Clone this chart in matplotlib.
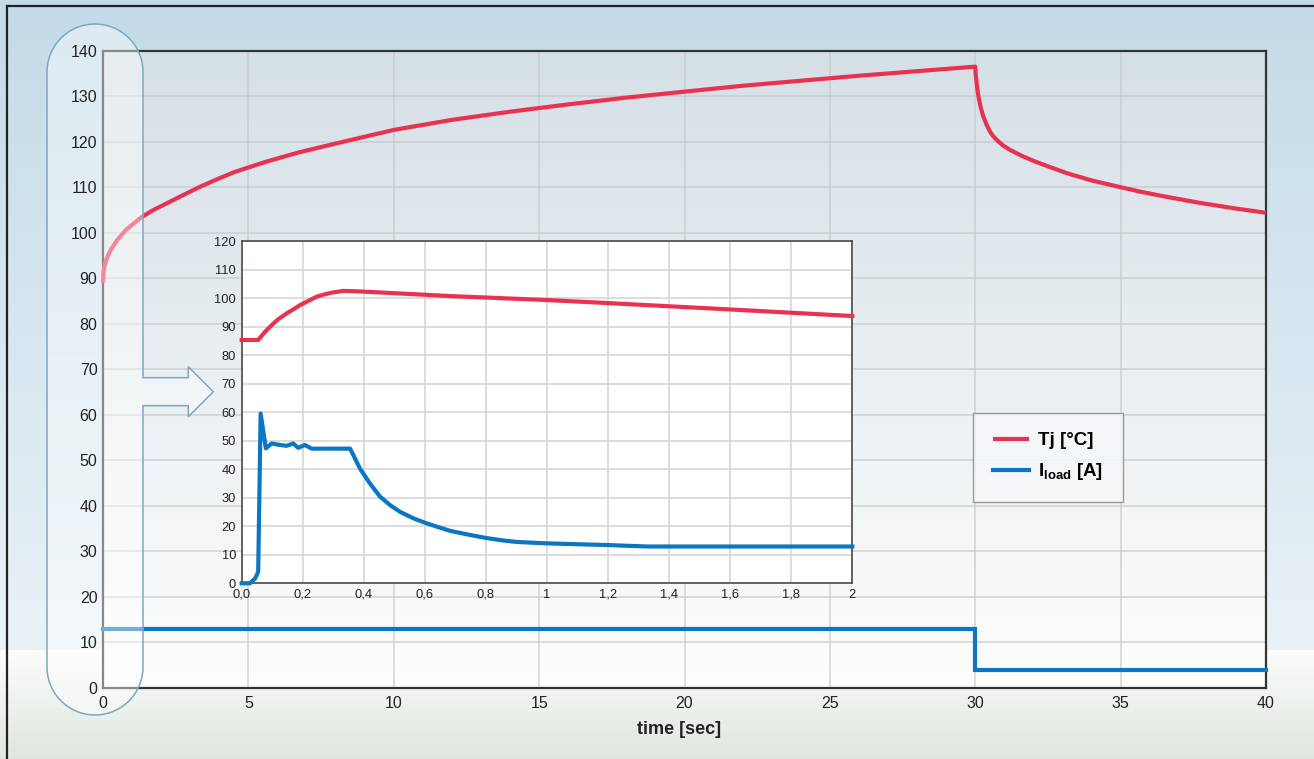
import numpy as np
import matplotlib
matplotlib.use("Agg")
import matplotlib.pyplot as plt
from matplotlib.path import Path
from matplotlib.patches import PathPatch
from matplotlib.lines import Line2D

plt.rcParams["font.family"] = ["Liberation Sans", "DejaVu Sans"]
plt.rcParams["mathtext.fontset"] = "custom"
plt.rcParams["mathtext.rm"] = "Liberation Sans"
plt.rcParams["mathtext.bf"] = "Liberation Sans:bold"

# ---- data -------------------------------------------------------------
# long-run view: junction temperature and load current over 40 s
time_tj = [0, 0.02, 0.05, 0.1, 0.2, 0.3, 0.5, 0.8, 1.3, 1.7, 2.2, 2.7, 3.3,
           3.9, 4.5, 5.6, 6.7, 8, 10, 12, 14, 16, 18, 20, 22, 24, 26, 28, 30,
           30.02, 30.06, 30.11, 30.19, 30.28, 30.4, 30.51, 30.62, 30.74,
           30.95, 31.2, 31.6, 32.0, 32.5, 33.15, 34.0, 34.94, 35.7, 36.58,
           37.7, 38.88, 40]
tj = [89, 91.4, 92.6, 93.8, 95.4, 96.6, 98.5, 100.7, 103.3, 104.9, 106.5,
      108.1, 110.0, 111.7, 113.3, 115.6, 117.6, 119.6, 122.6, 124.8, 126.6,
      128.2, 129.7, 131.0, 132.3, 133.4, 134.5, 135.5, 136.5,
      134.5, 132.2, 129.9, 127.5, 125.5, 123.6, 122.2, 121.2, 120.4,
      119.2, 118.2, 116.9, 115.8, 114.6, 113.1, 111.5, 110.1, 109.0, 107.9,
      106.6, 105.4, 104.4]

time_load = [0, 30, 30, 40]
i_load = [13, 13, 4, 4]

# zoomed view: first 2 s after switch-on
zoom_time_tj = [0, 0.054, 0.075, 0.098, 0.12, 0.147, 0.17, 0.191, 0.22,
                0.246, 0.275, 0.300, 0.333, 0.37, 0.409, 0.5, 0.682, 1.0,
                1.17, 1.6, 2.0]
zoom_tj = [85.3, 85.3, 88.0, 90.5, 92.6, 94.6, 96.1, 97.5, 99.1, 100.5,
           101.4, 102.0, 102.5, 102.4, 102.2, 101.7, 100.7, 99.3, 98.4,
           96.0, 93.7]

zoom_time_load = [0, 0.027, 0.044, 0.054, 0.062, 0.079, 0.098, 0.125, 0.147,
                  0.169, 0.185, 0.207, 0.229, 0.355, 0.371, 0.387, 0.42,
                  0.453, 0.486, 0.518, 0.562, 0.606, 0.682, 0.75, 0.8, 0.85,
                  0.9, 1.0, 1.1, 1.2, 1.33, 2.0]
zoom_load = [0, 0, 1.7, 4, 59.5, 47.3, 49, 48.5, 48.2, 49, 47.5, 48.5, 47.2,
             47.2, 43.8, 40.3, 35.0, 30.4, 27.4, 25.1, 22.8, 21.0, 18.4, 16.9,
             15.9, 15.1, 14.5, 14.0, 13.7, 13.4, 12.9, 12.9]

main_xticks = [0, 5, 10, 15, 20, 25, 30, 35, 40]
main_yticks = list(range(0, 141, 10))
zoom_xticks = [0, 0.2, 0.4, 0.6, 0.8, 1.0, 1.2, 1.4, 1.6, 1.8, 2.0]
zoom_xtick_labels = ["0,0", "0,2", "0,4", "0,6", "0,8", "1", "1,2", "1,4",
                     "1,6", "1,8", "2"]
zoom_yticks = list(range(0, 121, 10))

legend_labels = ["Tj [°C]", r"$\mathbf{I}_{\mathbf{load}}$ [A]"]

RED = "#e9324f"
BLUE = "#0b76c1"

# ---- figure -------------------------------------------------------------
W, H = 1314, 759
fig = plt.figure(figsize=(W / 100, H / 100), dpi=100)


def fx(px):
    return px / W


def fy(py):
    return (H - py) / H


# page background: blue sky fading to white, greenish floor
bg_ax = fig.add_axes([0, 0, 1, 1], zorder=-10)
bg_ax.set_axis_off()
top_c = np.array([0.765, 0.859, 0.910])
mid_c = np.array([0.915, 0.948, 0.966])
low_c = np.array([0.985, 0.990, 0.985])
bot_c = np.array([0.875, 0.905, 0.868])
grad = np.zeros((H, 1, 3))
for r in range(H):
    if r < 650:
        t = r / 650
        c = top_c * (1 - t) + mid_c * t
    else:
        t = (r - 650) / (H - 650)
        c = low_c * (1 - t) + bot_c * t
    grad[r, 0] = c
bg_ax.imshow(grad, aspect="auto", extent=[0, 1, 0, 1], origin="upper")
bg_ax.set_xlim(0, 1)
bg_ax.set_ylim(0, 1)

# frame lines of the page
fig.add_artist(Line2D([fx(7), 1], [fy(6), fy(6)], color="#222222", lw=1.6,
                      transform=fig.transFigure))
fig.add_artist(Line2D([fx(7), fx(7)], [fy(6), 0], color="#222222", lw=1.6,
                      transform=fig.transFigure))

# ---- main axes ---------------------------------------------------------
main_rect = [fx(103), fy(688), fx(1266) - fx(103), fy(50.7) - fy(688)]
ax = fig.add_axes(main_rect, zorder=0)
ax.set_xlim(0, 40)
ax.set_ylim(0, 140)
ax.set_facecolor("none")

agrad = np.linspace(0, 1, 256)[:, None]
a_top = np.array([0.835, 0.877, 0.903])
a_bot = np.array([0.995, 0.995, 0.993])
shade = (a_top[None, None, :] * (1 - agrad[..., None])
         + a_bot[None, None, :] * agrad[..., None])
shade = np.clip(shade, 0, 1)
ax.imshow(shade, aspect="auto", extent=[0, 1, 0, 1], origin="upper",
          transform=ax.transAxes, zorder=-5)

ax.set_xticks(main_xticks)
ax.set_yticks(main_yticks)
ax.grid(True, color="#c4c7c9", alpha=0.6, lw=1.4)
ax.set_axisbelow(True)
ax.tick_params(length=0, labelbottom=False, labelleft=False)
for s in ax.spines.values():
    s.set_color("#333333")
    s.set_linewidth(1.6)

tj_line, = ax.plot(time_tj, tj, color=RED, lw=3.0, solid_joinstyle="round",
                   solid_capstyle="butt", clip_on=False, zorder=3)
load_line, = ax.plot(time_load, i_load, color=BLUE, lw=3.0,
                     solid_joinstyle="miter", clip_on=False, zorder=3)

leg = ax.legend([tj_line, load_line], legend_labels, loc="upper left",
                bbox_to_anchor=(0.7483, 0.432), borderaxespad=0,
                prop={"family": "Liberation Sans", "weight": "bold",
                      "size": 13.5},
                handlelength=1.9, handletextpad=0.5, borderpad=1.05,
                labelspacing=0.62, fancybox=False, framealpha=0.85,
                facecolor="#f6f8fa", edgecolor="#8a8a8a")
leg.get_frame().set_linewidth(1.0)

# ---- translucent rounded callout with arrow towards the zoomed view ----
x0, x1 = 47, 143
yt, yb = 24, 715
r = 48
cx = (x0 + x1) / 2
verts = []
for a in np.linspace(np.pi, 0, 40):  # top arc
    verts.append((cx + r * np.cos(a), yt + r - r * np.sin(a)))
verts += [(x1, 377.7), (188.3, 377.7), (188.3, 366.7), (213.3, 391.7),
          (188.3, 416.7), (188.3, 405.7), (x1, 405.7), (x1, yb - r)]
for a in np.linspace(0, -np.pi, 40):  # bottom arc
    verts.append((cx + r * np.cos(a), yb - r - r * np.sin(a)))
verts.append(verts[0])
verts = [(fx(px), fy(py)) for px, py in verts]
codes = [Path.MOVETO] + [Path.LINETO] * (len(verts) - 2) + [Path.CLOSEPOLY]
callout = PathPatch(Path(verts, codes), facecolor=(1, 1, 1, 0.42),
                    edgecolor="#7ea7c0", lw=1.1, transform=fig.transFigure,
                    zorder=1)
fig.add_artist(callout)

# ---- tick labels of the main view, kept above the callout --------------
lab = fig.add_axes(main_rect, zorder=2)
lab.set_xlim(0, 40)
lab.set_ylim(0, 140)
lab.patch.set_visible(False)
for s in lab.spines.values():
    s.set_visible(False)
lab.set_xticks(main_xticks)
lab.set_yticks(main_yticks)
lab.tick_params(length=0, labelsize=11.5, labelcolor="#222222")
lab.tick_params(axis="x", pad=6)
lab.tick_params(axis="y", pad=4)
lab.set_xlabel("time [sec]", fontsize=13, fontweight="bold", color="#222222")
lab.xaxis.set_label_coords(0.4955, -0.0515)

# ---- zoomed view -------------------------------------------------------
ins = fig.add_axes([fx(241.7), fy(583.3), fx(852.3) - fx(241.7),
                    fy(241) - fy(583.3)], zorder=3)
ins.set_facecolor("white")
ins.set_xlim(0, 2)
ins.set_ylim(0, 120)
ins.set_xticks(zoom_xticks)
ins.set_xticklabels(zoom_xtick_labels)
ins.set_yticks(zoom_yticks)
ins.grid(True, color="#d6d6d6", lw=1.2)
ins.set_axisbelow(True)
ins.tick_params(length=0, labelsize=9.3, labelcolor="#222222")
ins.tick_params(axis="x", pad=4)
ins.tick_params(axis="y", pad=4)
for s in ins.spines.values():
    s.set_color("#4a4a4a")
    s.set_linewidth(1.2)

ins.plot(zoom_time_tj, zoom_tj, color=RED, lw=3.0, solid_joinstyle="round",
         clip_on=False, zorder=3)
ins.plot(zoom_time_load, zoom_load, color=BLUE, lw=3.0,
         solid_joinstyle="round", clip_on=False, zorder=3)

fig.savefig("out.png", dpi=100)
